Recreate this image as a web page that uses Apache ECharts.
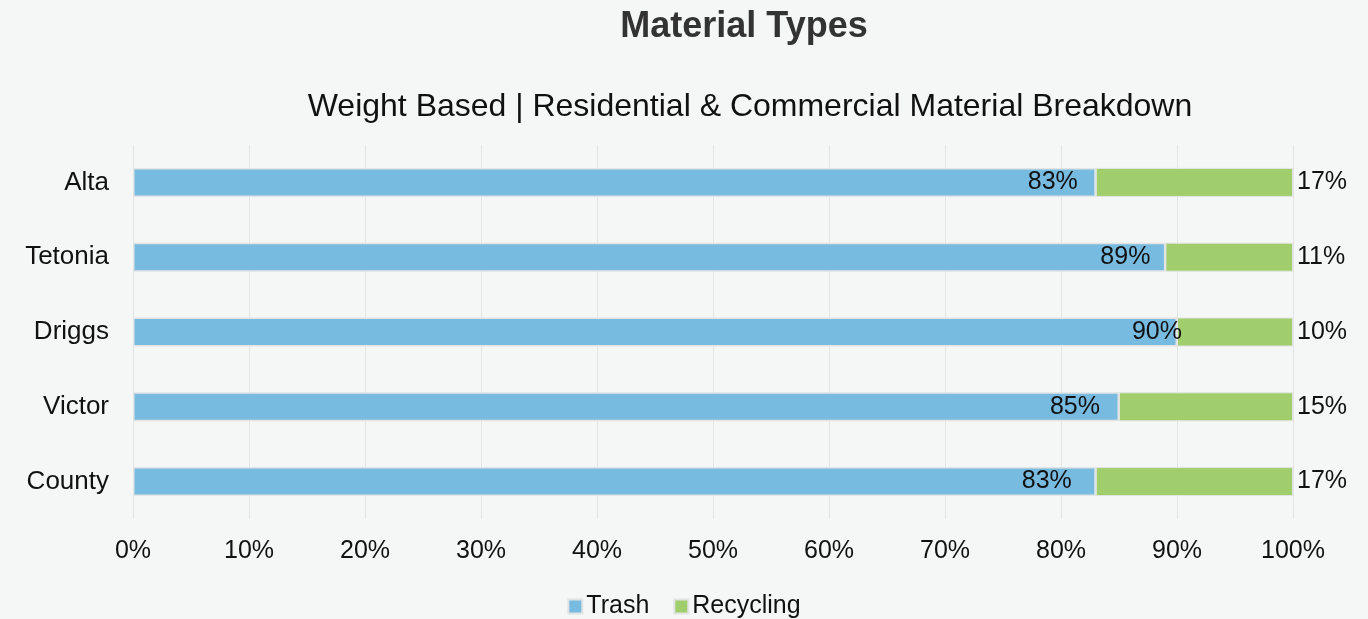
<!DOCTYPE html>
<html>
<head>
<meta charset="utf-8">
<script src="https://cdn.jsdelivr.net/npm/echarts@6/dist/echarts.min.js"></script>
<style>
  html, body { margin: 0; padding: 0; background: #f5f7f6; }
  #chart { width: 1368px; height: 619px; }
</style>
</head>
<body>
<div id="chart"></div>
<script>
// Share of collected material by weight, per area (percent)
const areas = ['Alta', 'Tetonia', 'Driggs', 'Victor', 'County'];
const trash = [83, 89, 90, 85, 83];
const recycling = [17, 11, 10, 15, 17];
const xTicks = [0, 10, 20, 30, 40, 50, 60, 70, 80, 90, 100];

// How far each trash label sits in from the end of its bar (px)
const trashLabelInset = [18, 15, -5, 19, 24];

const FONT = '"Liberation Sans", Arial, sans-serif';
const chart = echarts.init(document.getElementById('chart'));

chart.setOption({
  backgroundColor: '#f5f7f6',
  textStyle: { fontFamily: FONT },
  title: [
    {
      text: 'Material Types',
      left: 739, top: 4, textAlign: 'center',
      textStyle: { fontFamily: FONT, fontSize: 36, fontWeight: 'bold', color: '#333333' }
    },
    {
      text: 'Weight Based | Residential & Commercial Material Breakdown',
      left: 745, top: 86, textAlign: 'center',
      textStyle: { fontFamily: FONT, fontSize: 32, fontWeight: 'normal', color: '#111111' }
    }
  ],
  legend: {
    data: ['Trash', 'Recycling'],
    top: 589, left: 'center',
    itemWidth: 14, itemHeight: 14, itemGap: 24,
    icon: 'rect',
    textStyle: { fontFamily: FONT, fontSize: 25, color: '#111111', padding: [0, 0, 0, -1] }
  },
  grid: { left: 133, right: 75, top: 145, bottom: 100, containLabel: false },
  xAxis: {
    type: 'value', min: xTicks[0], max: xTicks[xTicks.length - 1], interval: 10,
    axisLine: { show: false }, axisTick: { show: false },
    splitLine: { show: true, lineStyle: { color: '#e3e5e4', width: 1 } },
    axisLabel: { formatter: '{value}%', fontFamily: FONT, fontSize: 25, color: '#111111', margin: 20 }
  },
  yAxis: {
    type: 'category', data: areas, inverse: true,
    axisLine: { show: false }, axisTick: { show: false },
    axisLabel: { fontFamily: FONT, fontSize: 26, color: '#111111', margin: 24 }
  },
  series: [
    {
      name: 'Trash', type: 'bar', stack: 'total',
      data: trash.map((v, i) => ({
        value: v,
        label: { offset: [-trashLabelInset[i], 0] }
      })),
      barWidth: 29,
      itemStyle: { color: '#78bbe1', borderColor: '#e2e4e3', borderWidth: 1.5 },
      label: {
        show: true, position: 'insideRight', distance: 0,
        formatter: p => Math.round(p.value) + '%',
        fontFamily: FONT, fontSize: 25, color: '#111111'
      }
    },
    {
      name: 'Recycling', type: 'bar', stack: 'total', data: recycling,
      barWidth: 29,
      itemStyle: { color: '#a1ce6d', borderColor: '#e2e4e3', borderWidth: 1 },
      label: {
        show: true, position: 'right', distance: 4,
        formatter: p => Math.round(p.value) + '%',
        fontFamily: FONT, fontSize: 25, color: '#111111'
      }
    }
  ]
});
</script>
</body>
</html>
